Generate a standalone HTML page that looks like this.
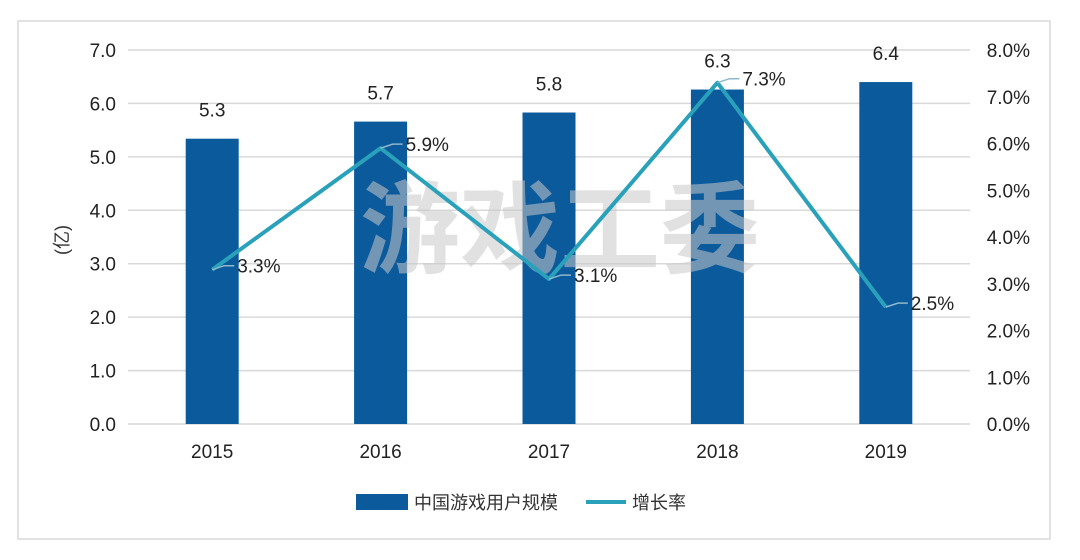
<!DOCTYPE html>
<html><head><meta charset="utf-8"><style>
html,body{margin:0;padding:0;background:#fff;}
svg{display:block;font-family:"Liberation Sans","Noto Sans CJK SC",sans-serif;}
</style></head><body>
<svg width="1080" height="560" viewBox="0 0 1080 560">
<rect x="18" y="21" width="1032" height="518" fill="#fff" stroke="#d9d9d9" stroke-width="1.5"/>
<g id="grid"></g>
<g id="bars"></g>
<text x="560" y="265" text-anchor="middle" font-size="100" fill="#c8c8c8" fill-opacity="0.55" font-family="'Noto Sans CJK SC',sans-serif" font-weight="bold">游戏工委</text>
<g id="line"></g>
<g id="labels"></g>
<text transform="translate(68,240) rotate(-90)" text-anchor="middle" font-size="18" fill="#333">(亿)</text>
<g>
<rect x="356" y="494" width="52" height="16" fill="#0b5a9c"/>
<text x="414" y="509" font-size="18" fill="#333">中国游戏用户规模</text>
<line x1="586" y1="502" x2="626" y2="502" stroke="#2aa1bb" stroke-width="4"/>
<text x="632" y="509" font-size="18" fill="#333">增长率</text>
</g>
</svg>
<script>
const categories=["2015","2016","2017","2018","2019"];
const users=[5.34,5.66,5.83,6.26,6.4];
const userLabels=["5.3","5.7","5.8","6.3","6.4"];
const growth=[3.3,5.9,3.1,7.3,2.5];
const growthLabels=["3.3%","5.9%","3.1%","7.3%","2.5%"];
const leftTicks=[0,1,2,3,4,5,6,7];
const rightTicks=[0,1,2,3,4,5,6,7,8];
const NS="http://www.w3.org/2000/svg";
const x0=128,x1=970,y0=424,yTop=50;
const yL=v=>y0-(v/7)*(y0-yTop);
const yR=v=>y0-(v/8)*(y0-yTop);
const step=(x1-x0)/categories.length;
const xC=i=>x0+step*(i+0.5);
function mk(tag,attrs,parent,text){const e=document.createElementNS(NS,tag);for(const k in attrs)e.setAttribute(k,attrs[k]);if(text!==undefined)e.textContent=text;parent.appendChild(e);return e;}
const grid=document.getElementById('grid'),bars=document.getElementById('bars'),line=document.getElementById('line'),labels=document.getElementById('labels');
leftTicks.forEach(t=>{
 const l=mk('line',{x1:x0,x2:x1,y1:yL(t),y2:yL(t),stroke:'#d9d9d9','stroke-width':1.5},grid);
 
 
 const tx=mk('text',{x:116,y:yL(t)+7,'text-anchor':'end','font-size':19,fill:'#222'},labels,t.toFixed(1));
 
 
});
rightTicks.forEach(t=>{
 const tx=mk('text',{x:1030,y:yR(t)+7,'text-anchor':'end','font-size':19,fill:'#222'},labels,t.toFixed(1)+'%');
 
 
});
const bw=53;
categories.forEach((c,i)=>{
 const r=mk('rect',{x:xC(i)-bw/2,y:yL(users[i]),width:bw,height:y0-yL(users[i]),fill:'#0b5a9c'},bars);
 
 
 const vl=mk('text',{x:xC(i),y:yL(users[i])-22,'text-anchor':'middle','font-size':19,fill:'#222'},labels,userLabels[i]);
 
 
 const xl=mk('text',{x:xC(i),y:458,'text-anchor':'middle','font-size':19,fill:'#222'},labels,c);
 
 
});
const pts=growth.map((g,i)=>xC(i)+','+yR(g)).join(' ');
const pl=mk('polyline',{points:pts,fill:'none',stroke:'#2aa1bb','stroke-width':4,'stroke-linejoin':'round'},line);


growth.forEach((g,i)=>{
 const x=xC(i),y=yR(g);
 const ld=mk('polyline',{points:`${x},${y} ${x+12},${y-4} ${x+22},${y-4}`,fill:'none',stroke:'#8fb8cc','stroke-width':1.5},line);
 
 
 const t=mk('text',{x:x+25,y:y+3,'font-size':19,fill:'#222'},labels,growthLabels[i]);
 
 
});
</script>
</body></html>
